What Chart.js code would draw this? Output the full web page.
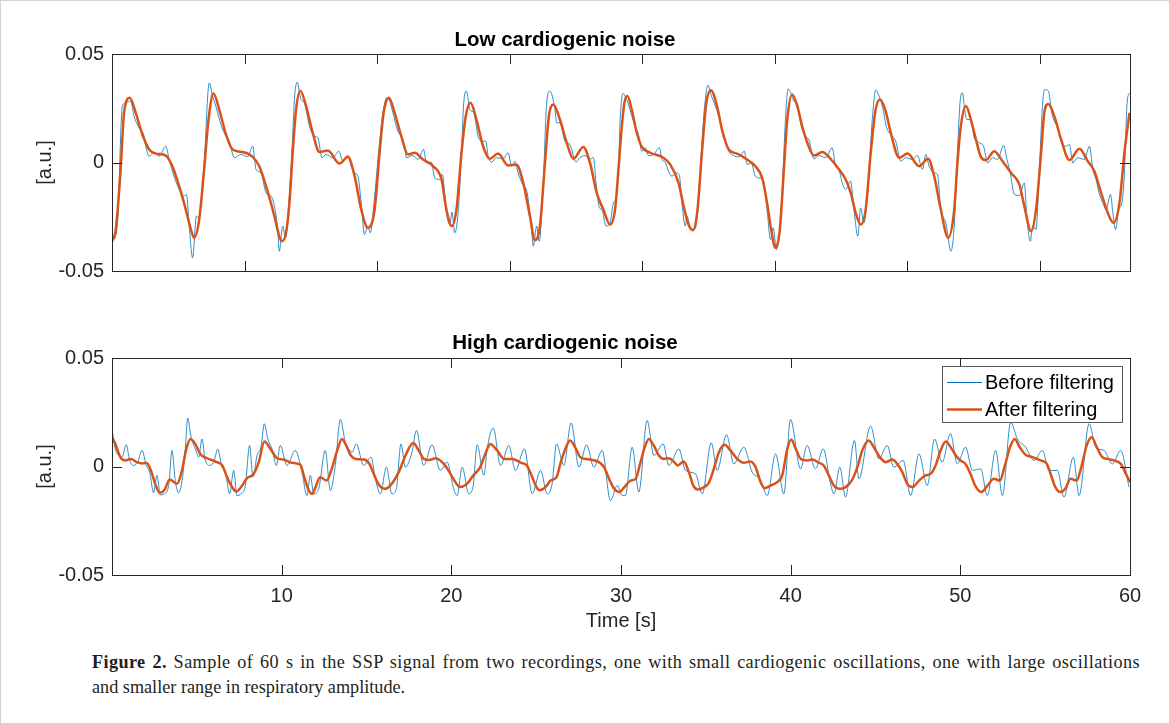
<!DOCTYPE html>
<html lang="en">
<head>
<meta charset="UTF-8">
<title>SSP signal before and after filtering</title>
<script src="https://cdn.jsdelivr.net/npm/chart.js"></script>
<style>
  html, body { margin: 0; padding: 0; background: #fff; }
  #page { position: relative; width: 1170px; height: 724px; overflow: hidden; background: #fff; }
  #frame { position: absolute; left: 0; top: 0; right: 0; bottom: 0; border: 1px solid #d4d4d4; pointer-events: none; }
  canvas { position: absolute; left: 0; }
  #topChart { top: 0; }
  #bottomChart { top: 300px; }
  .caption {
    position: absolute; left: 92px; top: 650px; width: 1048px;
    font-family: "Liberation Serif", "Times New Roman", serif;
    font-size: 18.2px; line-height: 25px; color: #231f20;
  }
  .caption .full { text-align: justify; text-align-last: justify; letter-spacing: 0.4px; }
</style>
</head>
<body>
<div id="page">
  <canvas id="topChart" width="1170" height="300"></canvas>
  <canvas id="bottomChart" width="1170" height="340"></canvas>
  <div class="caption">
    <div class="full"><b>Figure 2.</b> Sample of 60 s in the SSP signal from two recordings, one with small cardiogenic oscillations, one with large oscillations</div>
    <div>and smaller range in respiratory amplitude.</div>
  </div>
  <div id="frame"></div>
</div>

<script>
  // axis ticks
  const yTicks = [-0.05, 0, 0.05];
  const yTickLabels = ['-0.05', '0', '0.05'];
  const topXTicks = [7.8125, 15.625, 23.4375, 31.25, 39.0625, 46.875, 54.6875];
  const bottomXTicks = [10, 20, 30, 40, 50, 60];
  const bottomXTickLabels = ['10', '20', '30', '40', '50', '60'];

  // low cardiogenic noise: [time s, value a.u.]
  const lowBefore = [
    [0.0,-0.0324],[0.06,-0.0355],[0.32,-0.0278],[0.61,0.026],[0.81,0.0275],[1.1,0.0283],[1.3,0.0214],[1.59,0.016],
    [1.89,0.0121],[1.99,0.0075],[2.19,0.0029],[2.48,0.0045],[2.78,0.0029],[3.17,0.0075],[3.37,0.0014],[3.56,-0.004],
    [3.96,-0.0124],[4.25,-0.0155],[4.39,-0.0147],[4.55,-0.0293],[4.75,-0.0439],[4.98,-0.0247],[5.1,-0.0255],[5.43,-0.0002],
    [5.73,0.0367],[5.93,0.0306],[6.12,0.026],[6.42,0.0175],[6.72,0.0121],[6.91,0.0098],[7.21,0.0022],[7.6,0.0037],
    [8.0,0.0026],[8.29,0.0075],[8.49,-0.0032],[8.78,-0.0048],[9.08,-0.014],[9.37,-0.0155],[9.57,-0.0201],[9.77,-0.0309],
    [9.86,-0.0409],[10.06,-0.0293],[10.22,-0.0347],[10.45,-0.0155],[10.65,0.0121],[10.75,0.029],[10.91,0.037],[11.14,0.029],
    [11.34,0.0275],[11.64,0.0167],[11.93,0.0121],[12.13,0.0114],[12.38,0.0022],[12.62,0.0037],[13.01,0.0022],[13.37,0.0052],
    [13.61,0.0006],[13.9,0.0032],[14.1,-0.0017],[14.29,-0.0048],[14.49,-0.0063],[14.69,-0.0186],[14.88,-0.0332],[15.08,-0.0293],
    [15.22,-0.0324],[15.48,-0.0155],[15.77,0.0091],[15.97,0.0229],[16.2,0.0298],[16.36,0.0283],[16.56,0.0229],[16.85,0.0144],
    [17.05,0.0121],[17.25,0.0075],[17.35,0.0022],[17.74,0.0032],[18.03,0.0014],[18.37,0.006],[18.53,-0.0002],[18.82,0.0002],
    [19.02,-0.0071],[19.31,-0.0078],[19.47,-0.0055],[19.71,-0.0232],[19.91,-0.0286],[20.04,-0.0229],[20.2,-0.0324],[20.4,-0.0232],
    [20.6,0.0045],[20.73,0.0275],[20.89,0.0329],[21.09,0.0244],[21.32,0.0229],[21.58,0.0121],[21.78,0.0098],[22.03,0.0098],
    [22.17,0.0029],[22.37,0.0002],[22.66,0.0022],[23.06,0.0017],[23.35,0.0045],[23.55,-0.0017],[23.75,0.0006],[23.94,-0.0048],
    [24.2,-0.0101],[24.47,-0.014],[24.73,-0.0309],[24.83,-0.0386],[25.03,-0.0293],[25.18,-0.0363],[25.42,-0.0094],[25.62,0.0275],
    [25.81,0.0329],[26.11,0.0244],[26.21,0.0183],[26.4,0.0183],[26.7,0.0098],[26.99,0.0083],[27.35,0.0002],[27.58,0.0022],
    [27.88,0.0032],[28.14,0.0014],[28.37,0.0022],[28.53,-0.0094],[28.73,-0.0209],[28.87,-0.0217],[29.12,-0.0293],[29.36,-0.0278],
    [29.55,-0.0186],[29.71,-0.0163],[29.85,-0.0032],[29.95,0.0198],[30.11,0.0318],[30.24,0.0306],[30.44,0.0267],[30.64,0.0214],
    [30.83,0.0167],[31.03,0.0129],[31.23,0.0052],[31.42,0.0068],[31.62,0.0032],[31.92,0.0037],[32.27,0.0068],[32.41,0.0014],
    [32.6,0.0002],[32.8,-0.004],[33.0,-0.0063],[33.29,-0.0048],[33.45,-0.0063],[33.59,-0.0186],[33.79,-0.0293],[33.89,-0.0247],
    [34.08,-0.0301],[34.32,-0.0309],[34.48,-0.0263],[34.67,-0.0032],[34.91,0.0244],[35.13,0.0356],[35.3,0.0313],[35.56,0.026],
    [35.76,0.0214],[35.95,0.016],[36.15,0.0106],[36.35,0.0052],[36.64,0.0032],[36.94,0.0026],[37.27,0.0052],[37.43,-0.0009],
    [37.67,-0.0002],[37.92,-0.0063],[38.12,-0.0071],[38.37,-0.0078],[38.61,-0.0217],[38.81,-0.0355],[38.97,-0.0301],[39.16,-0.0401],
    [39.4,-0.0278],[39.56,-0.0032],[39.69,0.0198],[39.85,0.0339],[40.09,0.0306],[40.18,0.0283],[40.38,0.0275],[40.58,0.0183],
    [40.87,0.0121],[41.07,0.0106],[41.37,0.0017],[41.66,0.0032],[42.06,0.0022],[42.45,0.0068],[42.65,-0.0017],[42.84,-0.0032],
    [43.04,-0.0094],[43.24,-0.0124],[43.53,-0.0086],[43.73,-0.0217],[43.96,-0.0339],[44.12,-0.0209],[44.32,-0.0278],[44.56,-0.0109],
    [44.81,0.0198],[45.01,0.0333],[45.21,0.0306],[45.4,0.026],[45.66,0.016],[45.89,0.0129],[46.19,0.0098],[46.49,0.0006],
    [46.78,0.0022],[47.17,0.0014],[47.47,0.0032],[47.77,-0.0032],[47.96,0.0037],[48.16,-0.0017],[48.45,-0.0048],[48.65,-0.0055],
    [48.85,-0.0217],[49.14,-0.0278],[49.24,-0.0324],[49.44,-0.0409],[49.64,-0.0293],[49.83,0.0045],[49.99,0.0283],[50.13,0.0321],
    [50.23,0.026],[50.38,0.0198],[50.62,0.0198],[50.82,0.0114],[51.11,0.0091],[51.37,0.0075],[51.61,-0.0002],[51.9,0.0022],
    [52.2,0.0014],[52.55,0.0078],[52.75,0.0014],[52.94,-0.0048],[53.18,-0.0147],[53.48,-0.0152],[53.77,-0.0094],[53.93,-0.0263],
    [54.13,-0.0363],[54.26,-0.0293],[54.46,-0.0309],[54.66,-0.0032],[54.85,0.0275],[54.99,0.0336],[55.19,0.0329],[55.39,0.0229],
    [55.58,0.0183],[55.74,0.0167],[55.94,0.0098],[56.23,0.0075],[56.43,0.0083],[56.63,-0.0002],[56.92,0.0022],[57.31,0.0014],
    [57.61,0.0075],[57.81,-0.0032],[58.0,-0.0078],[58.2,-0.0147],[58.4,-0.0186],[58.59,-0.0217],[58.85,-0.0147],[58.99,-0.0232],
    [59.15,-0.0309],[59.34,-0.0217],[59.54,-0.0178],[59.68,-0.0032],[59.83,0.0275],[59.97,0.0321]
  ];
  const lowAfter = [
    [0.0,-0.0363],[0.22,-0.031],[0.51,-0.0032],[0.71,0.0229],[1.04,0.0298],[1.4,0.0229],[1.79,0.0129],[2.19,0.006],
    [2.58,0.0041],[3.17,0.0032],[3.56,-0.0017],[3.96,-0.0109],[4.35,-0.0217],[4.65,-0.0309],[4.84,-0.0347],[5.14,-0.0263],
    [5.43,-0.0032],[5.69,0.0198],[5.98,0.0318],[6.32,0.0244],[6.72,0.0129],[7.11,0.006],[7.7,0.0048],[8.29,0.0026],
    [8.68,-0.0017],[9.08,-0.0109],[9.57,-0.0247],[9.86,-0.034],[10.02,-0.0363],[10.26,-0.0323],[10.46,-0.0184],[10.65,0.0046],
    [10.85,0.0244],[11.1,0.0329],[11.44,0.026],[11.83,0.0137],[12.23,0.0048],[12.72,0.0055],[13.41,-0.0005],[13.9,0.0026],
    [14.3,-0.0063],[14.69,-0.0217],[15.08,-0.0301],[15.48,-0.0217],[15.77,0.0045],[16.01,0.0229],[16.32,0.0298],[16.66,0.0229],
    [17.05,0.0121],[17.44,0.0037],[17.84,0.0045],[18.33,0.0014],[18.92,-0.0017],[19.42,-0.0078],[19.71,-0.0217],[20.02,-0.0293],
    [20.3,-0.0217],[20.6,0.0045],[20.85,0.0213],[21.13,0.0275],[21.48,0.0198],[21.87,0.0075],[22.27,0.0017],[22.76,0.0041],
    [23.35,-0.0014],[23.84,-0.001],[24.24,-0.0094],[24.63,-0.0247],[24.93,-0.0358],[25.22,-0.0293],[25.52,-0.0001],[25.75,0.0213],
    [26.01,0.0267],[26.4,0.0198],[26.8,0.0091],[27.19,0.0017],[27.78,0.0072],[28.17,-0.0001],[28.57,-0.014],[28.96,-0.0217],
    [29.36,-0.0286],[29.65,-0.0217],[29.85,-0.0032],[30.05,0.0167],[30.2,0.0275],[30.38,0.0306],[30.63,0.0244],[30.93,0.0137],
    [31.23,0.0072],[31.72,0.0045],[32.5,0.0022],[32.9,-0.0009],[33.39,-0.0094],[33.69,-0.0201],[33.98,-0.0286],[34.24,-0.0312],
    [34.51,-0.0217],[34.77,0.0045],[35.03,0.0275],[35.3,0.0333],[35.66,0.026],[35.95,0.0152],[36.35,0.006],[36.84,0.0041],
    [37.43,0.0014],[37.92,-0.0017],[38.32,-0.0071],[38.61,-0.0186],[38.85,-0.0309],[39.1,-0.0393],[39.36,-0.0309],[39.6,-0.0032],
    [39.8,0.0198],[40.09,0.0313],[40.39,0.026],[40.68,0.0167],[40.98,0.0091],[41.37,0.0032],[41.86,0.0048],[42.35,0.0017],
    [42.85,-0.0032],[43.24,-0.0078],[43.54,-0.014],[43.83,-0.0232],[44.13,-0.0286],[44.42,-0.0217],[44.72,0.0045],[45.01,0.0244],
    [45.27,0.029],[45.6,0.0236],[45.9,0.0137],[46.39,0.0022],[46.89,0.0041],[47.57,-0.0017],[48.1,0.0017],[48.46,-0.0063],
    [48.85,-0.0217],[49.28,-0.0347],[49.64,-0.0217],[49.83,-0.0001],[50.03,0.0167],[50.33,0.026],[50.62,0.0198],[50.92,0.0106],
    [51.21,0.0026],[51.51,0.0011],[52.0,0.0052],[52.49,0.0006],[52.99,-0.0048],[53.48,-0.0101],[53.77,-0.0201],[54.17,-0.0317],
    [54.46,-0.0217],[54.76,0.0045],[54.95,0.0229],[55.19,0.027],[55.54,0.0213],[55.94,0.0106],[56.43,0.0011],[57.02,0.0063],
    [57.51,0.0006],[57.9,-0.004],[58.3,-0.014],[58.69,-0.0232],[59.02,-0.0278],[59.38,-0.0186],[59.67,0.0045],[59.97,0.0229]
  ];

  // high cardiogenic noise: [time s, value a.u.]
  const highBefore = [
    [0.0,0.0174],[0.19,0.0081],[0.39,0.0051],[0.59,0.0043],[0.84,0.01],[1.04,0.0028],[1.28,0.0005],[1.51,0.002],
    [1.77,0.0074],[2.02,0.0005],[2.22,-0.0026],[2.45,-0.0121],[2.65,-0.0041],[2.85,-0.0131],[3.08,-0.0126],[3.34,-0.0088],
    [3.54,0.0074],[3.73,-0.0065],[3.93,-0.0121],[4.13,-0.0065],[4.32,0.0081],[4.46,0.0223],[4.66,0.0135],[4.91,0.0081],
    [5.11,0.0043],[5.3,0.0127],[5.5,0.0028],[5.8,0.0005],[6.03,0.0028],[6.23,0.0081],[6.48,-0.0003],[6.68,-0.0026],
    [6.94,-0.0126],[7.17,-0.0018],[7.37,-0.0134],[7.6,-0.0126],[7.86,-0.0088],[8.11,0.0097],[8.31,-0.0049],[8.55,0.0051],
    [8.78,0.0089],[8.98,0.0197],[9.18,0.0127],[9.43,0.0081],[9.69,0.0005],[9.92,0.0097],[10.31,0.0005],[10.8,0.0074],
    [11.2,-0.0026],[11.49,-0.0134],[11.69,-0.0041],[11.89,-0.0126],[12.18,-0.0103],[12.57,0.0074],[12.87,-0.0111],[13.16,0.0005],
    [13.46,0.0217],[13.75,0.0112],[13.95,0.0081],[14.15,0.0066],[14.4,0.0104],[14.83,0.0005],[15.27,0.0043],[15.52,-0.0057],
    [15.82,-0.0126],[16.17,-0.0003],[16.5,-0.0126],[16.76,-0.0103],[17.03,0.0104],[17.29,-0.0003],[17.68,0.0066],[17.94,0.0166],
    [18.37,0.0005],[18.86,0.01],[19.35,-0.0018],[19.75,0.002],[20.14,-0.0103],[20.34,-0.0134],[20.64,-0.0003],[21.03,-0.0126],
    [21.29,-0.0088],[21.52,0.01],[21.92,-0.0041],[22.11,0.0081],[22.47,0.0177],[22.9,0.0005],[23.39,0.0097],[23.78,-0.0018],
    [24.31,0.0081],[24.77,-0.0126],[25.26,-0.0018],[25.65,-0.0126],[25.94,-0.008],[26.2,0.0104],[26.63,0.0005],[27.06,0.0201],
    [27.52,-0.0003],[27.97,0.01],[28.4,-0.0003],[28.89,0.0074],[29.38,-0.0157],[29.78,-0.0088],[30.07,-0.0134],[30.26,-0.0134],
    [30.66,0.0089],[31.05,-0.0118],[31.54,0.0212],[31.94,0.0051],[32.49,0.0104],[32.82,0.0005],[33.41,0.0081],[33.8,-0.0018],
    [34.39,-0.0034],[34.79,-0.0126],[35.32,0.0109],[35.67,-0.0018],[36.22,0.0146],[36.65,0.0012],[37.24,0.0089],[37.73,-0.0026],
    [38.19,-0.0057],[38.62,-0.0134],[39.11,0.0058],[39.6,-0.0126],[39.99,0.0217],[40.58,-0.0011],[40.97,0.0097],[41.46,-0.0011],
    [41.92,0.0081],[42.35,-0.008],[42.55,-0.0126],[42.9,-0.0003],[43.23,-0.0141],[43.76,0.012],[44.02,-0.0057],[44.71,0.0186],
    [45.2,0.0035],[45.69,0.0097],[46.08,-0.0003],[46.63,0.0028],[47.07,-0.0134],[47.56,0.0058],[48.05,-0.0088],[48.48,0.0127],
    [48.93,0.002],[49.42,0.0151],[49.82,0.0012],[50.31,0.0089],[50.71,-0.0018],[51.2,-0.0011],[51.59,-0.0134],[52.08,0.0074],
    [52.48,-0.0134],[52.97,0.0204],[53.36,0.0127],[53.85,0.0089],[54.34,0.0028],[54.84,0.0074],[55.23,-0.0018],[55.72,-0.0018],
    [56.11,-0.0141],[56.66,0.0043],[57.0,-0.0134],[57.59,0.0197],[57.98,0.0089],[58.47,0.0074],[58.96,0.0012],[59.45,0.0074],
    [59.94,-0.0095]
  ];
  const highAfter = [
    [0.0,0.0135],[0.2,0.0104],[0.49,0.0043],[0.78,0.0028],[1.12,0.0035],[1.47,0.002],[1.8,0.0014],[2.02,0.0017],
    [2.26,-0.0011],[2.55,-0.008],[2.8,-0.0121],[3.1,-0.0107],[3.4,-0.006],[3.83,-0.008],[4.1,-0.0026],[4.38,0.0081],
    [4.62,0.0127],[4.91,0.0104],[5.2,0.0058],[5.6,0.0038],[6.1,0.0023],[6.5,0.0005],[6.78,-0.0049],[7.08,-0.0095],
    [7.33,-0.0115],[7.67,-0.0088],[7.96,-0.0054],[8.35,-0.0034],[8.65,0.002],[8.98,0.0115],[9.34,0.0081],[9.73,0.0038],
    [10.1,0.0032],[10.6,0.0017],[11.1,0.0008],[11.33,-0.0049],[11.6,-0.011],[11.8,-0.0126],[12.0,-0.0095],[12.26,-0.0049],
    [12.65,-0.0065],[12.95,-0.0011],[13.3,0.0081],[13.55,0.0127],[13.8,0.0097],[14.08,0.0051],[14.38,0.0035],[14.87,0.0032],
    [15.17,0.0012],[15.46,-0.0041],[15.76,-0.0088],[16.1,-0.0103],[16.4,-0.0088],[16.9,-0.0026],[17.3,0.0051],[17.75,0.0108],
    [18.08,0.0074],[18.38,0.0035],[18.7,0.003],[19.07,0.0038],[19.56,0.0012],[19.95,-0.0034],[20.24,-0.0072],[20.5,-0.0095],
    [20.9,-0.0081],[21.3,-0.0041],[21.7,-0.0003],[22.0,0.0058],[22.3,0.0104],[22.7,0.0074],[23.1,0.0035],[23.6,0.0035],
    [24.1,0.0017],[24.45,0.0005],[24.77,-0.0049],[24.97,-0.0088],[25.2,-0.011],[25.55,-0.0095],[25.85,-0.0065],[26.2,-0.0049],
    [26.45,0.002],[26.8,0.0097],[27.0,0.012],[27.35,0.0081],[27.6,0.0043],[28.2,0.0032],[28.7,0.002],[29.0,-0.0003],
    [29.3,-0.0057],[29.6,-0.0103],[29.9,-0.0118],[30.2,-0.0095],[30.56,-0.0065],[30.86,-0.0057],[31.15,0.002],[31.4,0.0089],
    [31.64,0.0127],[31.93,0.0097],[32.23,0.0051],[32.52,0.0035],[32.82,0.0038],[33.1,0.0023],[33.35,0.0005],[33.7,0.0023],
    [34.0,-0.0026],[34.26,-0.0088],[34.53,-0.0106],[34.9,-0.0095],[35.18,-0.0075],[35.47,-0.0011],[35.77,0.0066],[36.1,0.01],
    [36.45,0.0074],[36.85,0.0035],[37.24,0.0017],[37.63,0.0023],[37.93,-0.0003],[38.23,-0.0072],[38.46,-0.01],[38.8,-0.0088],
    [39.2,-0.0072],[39.5,-0.0041],[39.8,0.0081],[40.03,0.0124],[40.3,0.0081],[40.6,0.0035],[40.98,0.0028],[41.27,0.0032],
    [41.66,0.0017],[41.95,0.0005],[42.25,-0.0041],[42.55,-0.0088],[42.9,-0.0103],[43.23,-0.0095],[43.63,-0.006],[43.93,-0.0003],
    [44.22,0.0074],[44.6,0.012],[44.9,0.0089],[45.26,0.0043],[45.6,0.002],[46.0,0.0032],[46.28,0.0012],[46.58,-0.0026],
    [46.87,-0.008],[47.17,-0.0095],[47.56,-0.0065],[47.95,-0.0041],[48.25,-0.0034],[48.54,0.0005],[48.84,0.0074],[49.14,0.0115],
    [49.43,0.0089],[49.73,0.0051],[50.0,0.0028],[50.3,0.0012],[50.6,-0.0034],[50.9,-0.0092],[51.24,-0.0118],[51.6,-0.0088],
    [51.98,-0.0057],[52.33,-0.0065],[52.6,-0.0003],[52.93,0.0089],[53.2,0.0127],[53.5,0.0089],[53.85,0.0054],[54.25,0.0043],
    [54.73,0.0028],[55.1,0.0012],[55.32,-0.0034],[55.6,-0.0095],[55.9,-0.0118],[56.2,-0.01],[56.5,-0.0057],[56.86,-0.0065],
    [57.13,-0.0003],[57.45,0.0097],[57.74,0.0135],[58.04,0.0089],[58.37,0.0043],[58.67,0.0035],[59.06,0.0028],[59.46,0.0012],
    [59.76,-0.0034],[60.0,-0.0072]
  ];

  const FONT = '"Liberation Sans", Arial, Helvetica, sans-serif';
  const AXIS = '#262626';
  const BLUE = '#0072BD';
  const ORANGE = '#D95319';

  function pts(arr) {
    return arr.map(p => ({ x: p[0], y: p[1] }));
  }

  // MATLAB style box with inward ticks on all four sides
  const matlabAxes = {
    id: 'matlabAxes',
    afterDatasetsDraw(chart) {
      const { ctx, chartArea: a, scales: { x, y } } = chart;
      ctx.save();
      ctx.strokeStyle = AXIS;
      ctx.lineWidth = 1;
      ctx.beginPath();
      x.ticks.forEach(t => {
        const px = Math.round(x.getPixelForValue(t.value)) + 0.5;
        ctx.moveTo(px, a.bottom); ctx.lineTo(px, a.bottom - 10);
        ctx.moveTo(px, a.top); ctx.lineTo(px, a.top + 10);
      });
      y.ticks.forEach(t => {
        const py = Math.round(y.getPixelForValue(t.value)) + 0.5;
        ctx.moveTo(a.left, py); ctx.lineTo(a.left + 10, py);
        ctx.moveTo(a.right, py); ctx.lineTo(a.right - 10, py);
      });
      ctx.stroke();
      ctx.strokeRect(Math.round(a.left) + 0.5, Math.round(a.top) + 0.5,
                     Math.round(a.right - a.left), Math.round(a.bottom - a.top));
      ctx.restore();
    }
  };

  // legend box in the upper right corner of the plot
  const boxLegend = {
    id: 'boxLegend',
    afterDraw(chart, args, opts) {
      if (!opts.display) return;
      const { ctx, chartArea: a } = chart;
      const w = 180, h = 56;
      const left = Math.round(a.right) - 8 - w, top = Math.round(a.top) + 8;
      ctx.save();
      ctx.fillStyle = '#fff';
      ctx.fillRect(left, top, w, h);
      ctx.strokeStyle = '#5a5a5a';
      ctx.lineWidth = 1;
      ctx.strokeRect(left + 0.5, top + 0.5, w, h);
      chart.data.datasets.forEach((ds, i) => {
        const cy = top + 16 + i * 27;
        ctx.strokeStyle = ds.legendColor;
        ctx.lineWidth = ds.legendWidth;
        ctx.beginPath();
        ctx.moveTo(left + 5, cy + 0.5);
        ctx.lineTo(left + 40, cy + 0.5);
        ctx.stroke();
        ctx.fillStyle = '#000';
        ctx.font = '20px ' + FONT;
        ctx.textBaseline = 'middle';
        ctx.fillText(ds.label, left + 43, cy + 1);
      });
      ctx.restore();
    }
  };

  function makeChart(id, titleText, before, after, xTicks, xLabels, opts) {
    const ctx = document.getElementById(id).getContext('2d');
    return new Chart(ctx, {
      type: 'line',
      data: {
        datasets: [
          {
            label: 'Before filtering',
            data: pts(before),
            borderColor: 'rgba(0,114,189,0.8)',
            borderWidth: 1,
            legendColor: BLUE,
            legendWidth: 1,
            pointRadius: 0,
            cubicInterpolationMode: 'monotone',
            order: 2
          },
          {
            label: 'After filtering',
            data: pts(after),
            borderColor: ORANGE,
            borderWidth: 2.5,
            legendColor: ORANGE,
            legendWidth: 2.5,
            pointRadius: 0,
            cubicInterpolationMode: 'monotone',
            order: 1
          }
        ]
      },
      options: {
        responsive: false,
        animation: false,
        events: [],
        layout: { padding: { left: 0, right: 40, top: 0, bottom: opts.bottomPad } },
        scales: {
          x: {
            type: 'linear',
            min: 0,
            max: 60,
            afterBuildTicks: s => { s.ticks = xTicks.map(v => ({ value: v })); },
            afterFit: s => { s.height = opts.xHeight; },
            grid: { display: false, drawTicks: false },
            border: { display: false },
            ticks: {
              display: !!xLabels,
              padding: 9,
              color: AXIS,
              font: { family: FONT, size: 20 },
              maxRotation: 0,
              autoSkip: false,
              callback: v => xLabels ? xLabels[xTicks.indexOf(v)] : ''
            },
            title: {
              display: !!opts.xTitle,
              text: opts.xTitle || '',
              color: AXIS,
              font: { family: FONT, size: 20 },
              padding: { top: 0, bottom: 7 }
            }
          },
          y: {
            min: -0.05,
            max: 0.05,
            afterBuildTicks: s => { s.ticks = yTicks.map(v => ({ value: v })); },
            afterFit: s => { s.width = 112; },
            grid: { display: false, drawTicks: false },
            border: { display: false },
            ticks: {
              padding: 8,
              color: AXIS,
              font: { family: FONT, size: 20 },
              callback: v => yTickLabels[yTicks.indexOf(v)]
            },
            title: {
              display: true,
              text: '[a.u.]',
              color: AXIS,
              font: { family: FONT, size: 20 },
              padding: { top: 33, bottom: 0 }
            }
          }
        },
        plugins: {
          legend: { display: false },
          tooltip: { enabled: false },
          title: {
            display: true,
            text: titleText,
            color: '#000',
            font: { family: FONT, size: 20.5, weight: 'bold' },
            padding: opts.titlePad
          },
          boxLegend: { display: !!opts.legend }
        }
      },
      plugins: [matlabAxes, boxLegend]
    });
  }

  makeChart('topChart', 'Low cardiogenic noise', lowBefore, lowAfter, topXTicks, null,
            { bottomPad: 29, xHeight: 0, titlePad: { top: 28, bottom: 1.4 } });
  makeChart('bottomChart', 'High cardiogenic noise', highBefore, highAfter, bottomXTicks, bottomXTickLabels,
            { bottomPad: 0, xHeight: 65, xTitle: 'Time [s]', legend: true, titlePad: { top: 31, bottom: 2.4 } });
</script>
</body>
</html>
